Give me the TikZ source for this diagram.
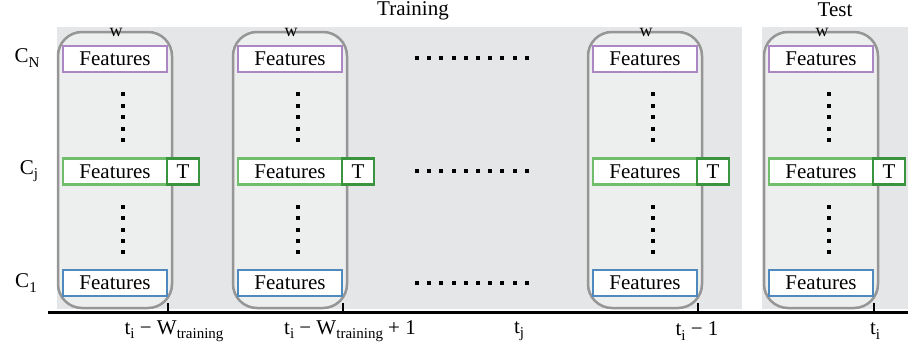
\documentclass[tikz,border=0pt]{standalone}
\usepackage{fontspec}
\setmainfont{Liberation Serif}
\newcommand\lbsub[1]{\raisebox{-0.45ex}{\fontsize{15}{15}\selectfont #1}}
\newcommand\fsmain{\fontsize{21}{24}\selectfont}
\definecolor{bggray}{RGB}{229,230,232}
\definecolor{capfill}{RGB}{237,238,238}
\definecolor{capline}{RGB}{150,150,150}
\definecolor{purp}{RGB}{172,135,198}
\definecolor{bluef}{RGB}{78,138,190}
\definecolor{greenf}{RGB}{112,190,108}
\definecolor{greent}{RGB}{58,148,62}
\begin{document}
\begin{tikzpicture}[x=1pt,y=-1pt,
  feat/.style={draw=#1, line width=2.5pt, fill=white, minimum width=104pt, minimum height=26pt, inner sep=0pt, font=\fsmain},
  tbox/.style={draw=greent, line width=2.5pt, fill=white, minimum width=32pt, minimum height=26pt, inner sep=0pt, font=\fsmain},
  capsule/.style={draw=capline, line width=2.5pt, fill=capfill, rounded corners=24pt},
  lbl/.style={font=\fsmain, inner sep=0pt},
  wlbl/.style={font=\fontsize{18}{18}\selectfont, inner sep=0pt},
  dotsq/.style={fill=black}]
\useasboundingbox (0,0) rectangle (908,351);
\fill[bggray] (57,27) rectangle (742,309);
\fill[bggray] (762,27) rectangle (908,309);
\node[lbl] (train) at (413,11) {Training};
\node[lbl] (test) at (835,10) {Test};
\node[lbl] (cN) at (27,58) {C\lbsub{N}};
\node[lbl] (cj) at (29,171) {C\lbsub{j}};
\node[lbl] (c1) at (26,283) {C\lbsub{1}};
\foreach \x/\n in {115/a, 290/b, 645/c, 821/d}{
  \draw[capsule] (\x-57,32) rectangle (\x+57,308);
  \node[wlbl] (w\n) at (\x+1,32) {w};
  \node[feat=purp] (fN\n) at (\x,59) {Features};
  \node[feat=greenf] (fj\n) at (\x,171.5) {Features};
  \node[feat=bluef] (f1\n) at (\x,283) {Features};
  \node[tbox] (T\n) at (\x+68,171.5) {T};
  \foreach \k in {0,...,4}{
    \fill[dotsq] (\x+8-2,94+11.5*\k-2) rectangle ++(4,4);
    \fill[dotsq] (\x+8-2,207+11.25*\k-2) rectangle ++(4,4);
  }
  \draw[line width=2pt] (\x+53,303) -- (\x+53,311);
}
\foreach \y in {58,171,283}{
  \foreach \k in {0,...,9}{
    \fill[dotsq] (417+12.2*\k-2,\y-2) rectangle ++(4,4);
  }
}
\draw[line width=3pt] (48,312) -- (908,312);
\node[lbl] (l1) at (174,331) {t\lbsub{i} − W\lbsub{training}};
\node[lbl] (l2) at (350,331) {t\lbsub{i} − W\lbsub{training} + 1};
\node[lbl] (l3) at (519,331) {t\lbsub{j}};
\node[lbl] (l4) at (697,331) {t\lbsub{i} − 1};
\node[lbl] (l5) at (875,331) {t\lbsub{i}};
\end{tikzpicture}
\end{document}
